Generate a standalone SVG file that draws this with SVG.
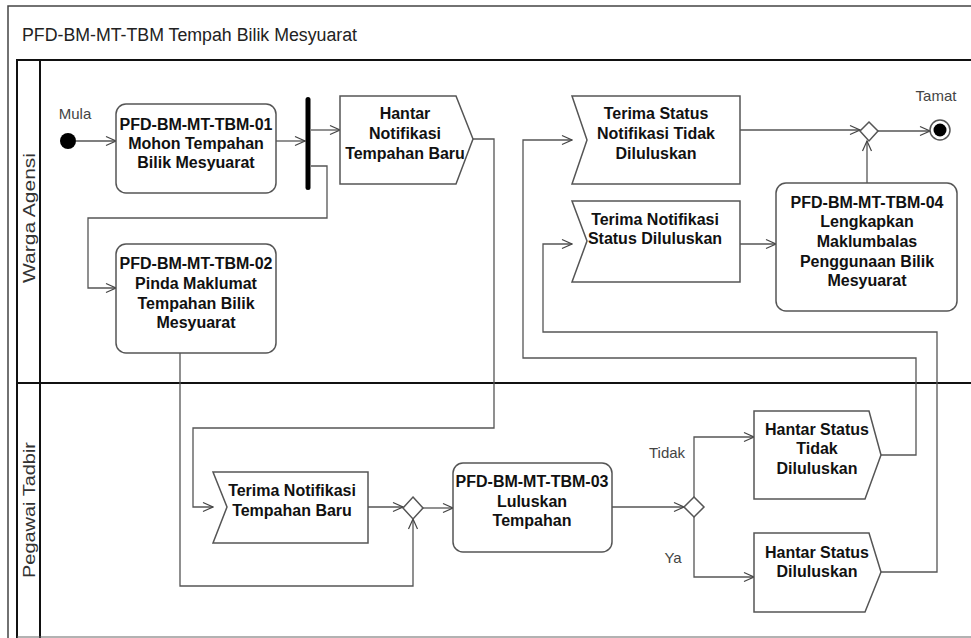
<svg xmlns="http://www.w3.org/2000/svg" width="971" height="638" viewBox="0 0 971 638">
<defs>
<marker id="arr" viewBox="0 0 12 12" refX="11" refY="6" markerWidth="12" markerHeight="12" markerUnits="userSpaceOnUse" orient="auto">
<path d="M1,1.5 L11,6 L1,10.5" fill="none" stroke="#444" stroke-width="1.2"/>
</marker>
<style>
.node{fill:#fff;stroke:#555;stroke-width:1.5}
.t{font-family:"Liberation Sans",Arial,sans-serif;font-size:16px;font-weight:bold;fill:#111;text-anchor:middle}
.lbl{font-family:"Liberation Sans",Arial,sans-serif;font-size:15px;fill:#444;text-anchor:middle}
.lane{font-family:"Liberation Sans",Arial,sans-serif;font-size:17px;fill:#333;text-anchor:middle}
.c{fill:none;stroke:#555;stroke-width:1.3;marker-end:url(#arr)}
.frame{fill:none;stroke:#111;stroke-width:2}
</style>
</defs>
<rect width="971" height="638" fill="#fff"/>
<g id="frame">
<path d="M8,638 V6 H975" fill="none" stroke="#444" stroke-width="1.5"/>
<text x="22" y="41" font-family="'Liberation Sans',Arial,sans-serif" font-size="18" fill="#222" textLength="335" lengthAdjust="spacingAndGlyphs">PFD-BM-MT-TBM Tempah Bilik Mesyuarat</text>
<path class="frame" d="M17,640 V60 H975 M40,60 V640 M17,383 H975"/>
<path d="M17,637 H975" stroke="#666" stroke-width="1.2"/>
<text class="lane" transform="translate(35,218) rotate(-90)" textLength="130" lengthAdjust="spacingAndGlyphs">Warga Agensi</text>
<text class="lane" transform="translate(35,510) rotate(-90)" textLength="136" lengthAdjust="spacingAndGlyphs">Pegawai Tadbir</text>
</g>
<g id="connectors">
<path class="c" d="M76,141 H116"/>
<path class="c" d="M276,141 H305"/>
<path class="c" d="M311,130 H340"/>
<path class="c" d="M311,166 H327 V218 H88 V288 H116"/>
<path class="c" d="M473,139 H494 V428 H193 V507 H213"/>
<path class="c" d="M180,353 V586 H413 V519"/>
<path class="c" d="M368,507 H403"/>
<path class="c" d="M423,508 H453"/>
<path class="c" d="M612,507 H684"/>
<path class="c" d="M694,497 V437 H754"/>
<path class="c" d="M694,517 V577 H754"/>
<path class="c" d="M881,455 H916 V358 H523 V140 H572"/>
<path class="c" d="M881,572 H937 V332 H543 V244 H572"/>
<path class="c" d="M740,130 H860"/>
<path class="c" d="M740,244 H776"/>
<path class="c" d="M867,183 V141"/>
<path class="c" d="M878,131 H930"/>
<text class="lbl" x="667" y="458">Tidak</text>
<text class="lbl" x="673" y="563">Ya</text>
</g>
<g id="start">
<circle cx="68" cy="141" r="8" fill="#000"/>
<text class="lbl" x="75" y="119">Mula</text>
</g>
<g id="a01">
<rect class="node" x="116" y="104" width="160" height="89" rx="10"/>
<text class="t" x="196" y="130">PFD-BM-MT-TBM-01</text>
<text class="t" x="196" y="149">Mohon Tempahan</text>
<text class="t" x="196" y="168">Bilik Mesyuarat</text>
</g>
<g id="fork">
<rect x="305.5" y="97" width="5" height="93" rx="2.5" fill="#000"/>
</g>
<g id="send1">
<polygon class="node" points="340,96 456,96 473,139 456,184 340,184"/>
<text class="t" x="405" y="119">Hantar</text>
<text class="t" x="405" y="139">Notifikasi</text>
<text class="t" x="405" y="159">Tempahan Baru</text>
</g>
<g id="a02">
<rect class="node" x="116" y="244" width="160" height="109" rx="10"/>
<text class="t" x="196" y="269">PFD-BM-MT-TBM-02</text>
<text class="t" x="196" y="289">Pinda Maklumat</text>
<text class="t" x="196" y="309">Tempahan Bilik</text>
<text class="t" x="196" y="328">Mesyuarat</text>
</g>
<g id="recv1">
<polygon class="node" points="213,472 368,472 368,543 213,543 227,507"/>
<text class="t" x="292" y="496">Terima Notifikasi</text>
<text class="t" x="292" y="516">Tempahan Baru</text>
</g>
<g id="merge1">
<polygon class="node" points="413,497 423,508 413,519 403,508"/>
</g>
<g id="a03">
<rect class="node" x="453" y="463" width="159" height="89" rx="10"/>
<text class="t" x="532" y="487">PFD-BM-MT-TBM-03</text>
<text class="t" x="532" y="507">Luluskan</text>
<text class="t" x="532" y="526">Tempahan</text>
</g>
<g id="decision">
<polygon class="node" points="694,497 704,507 694,517 684,507"/>
</g>
<g id="send2">
<polygon class="node" points="754,411 869,411 881,455 865,499 754,499"/>
<text class="t" x="817" y="435">Hantar Status</text>
<text class="t" x="817" y="454">Tidak</text>
<text class="t" x="817" y="474">Diluluskan</text>
</g>
<g id="send3">
<polygon class="node" points="754,533 869,533 881,572 865,612 754,612"/>
<text class="t" x="817" y="558">Hantar Status</text>
<text class="t" x="817" y="577">Diluluskan</text>
</g>
<g id="recv2">
<polygon class="node" points="572,96 740,96 740,184 572,184 587,140"/>
<text class="t" x="656" y="119">Terima Status</text>
<text class="t" x="656" y="139">Notifikasi Tidak</text>
<text class="t" x="656" y="159">Diluluskan</text>
</g>
<g id="recv3">
<polygon class="node" points="572,201 740,201 740,282 572,282 587,241"/>
<text class="t" x="655" y="225">Terima Notifikasi</text>
<text class="t" x="655" y="244">Status Diluluskan</text>
</g>
<g id="a04">
<rect class="node" x="776" y="183" width="181" height="128" rx="10"/>
<text class="t" x="867" y="208">PFD-BM-MT-TBM-04</text>
<text class="t" x="867" y="227">Lengkapkan</text>
<text class="t" x="867" y="247">Maklumbalas</text>
<text class="t" x="867" y="267">Penggunaan Bilik</text>
<text class="t" x="867" y="286">Mesyuarat</text>
</g>
<g id="merge2">
<polygon class="node" points="869,122 878,131 869,141 860,131"/>
</g>
<g id="end">
<circle cx="940" cy="130" r="10" fill="#fff" stroke="#555" stroke-width="1.5"/>
<circle cx="940" cy="130" r="6.5" fill="#000"/>
<text class="lbl" x="936" y="101">Tamat</text>
</g>
</svg>
